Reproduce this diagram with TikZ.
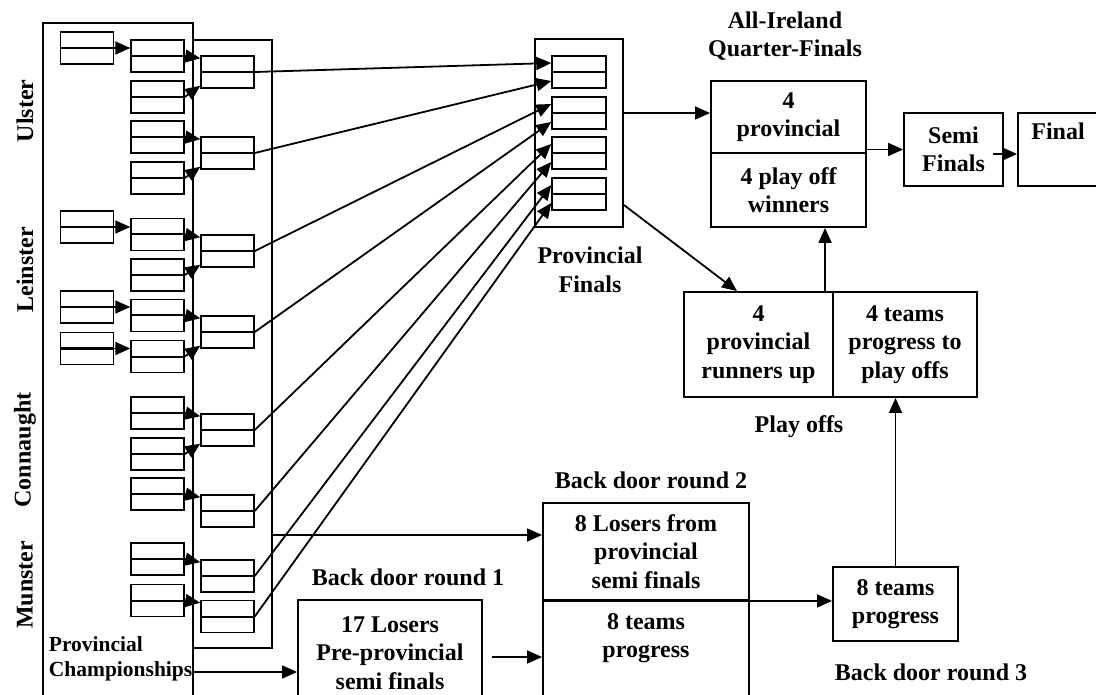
\documentclass[tikz,border=0pt]{standalone}
\usepackage{fontspec}
\setmainfont{Liberation Serif}
\usetikzlibrary{arrows.meta}

\tikzset{
  box/.style={draw, line width=1.9pt, align=center, inner sep=0pt},
  slot/.style={draw, line width=1.5pt, minimum width=53pt, minimum height=32pt, inner sep=0pt,
    path picture={\draw[line width=2pt] (path picture bounding box.west) -- (path picture bounding box.east);}},
  txt/.style={align=center, inner sep=0pt},
}

\begin{document}
\begin{tikzpicture}[x=1pt, y=-1pt, >={Triangle[length=15pt,width=13pt]}, line width=1.8pt,
    font=\bfseries\fontsize{24}{28.5}\selectfont]

        \useasboundingbox (0,0) rectangle (1096,695);
        \clip (0,0) rectangle (1096,695);

        % Provinces
        \node[rotate=90] (ulster) at (25,111) {Ulster};
        \node[rotate=90] (leinster) at (25,270) {Leinster};
        \node[rotate=90] (connaught) at (25,450) {Connaught};
        \node[rotate=90] (munster) at (25,585) {Munster};

        % Championship frames
        \draw (43,700) |- (193,23) -- (193,700);
        \node[box, minimum width=79pt, minimum height=608pt] (rounds) at (232.5,344) {};
        \node[txt, align=left, anchor=west, font=\bfseries\fontsize{21.5}{25}\selectfont] (champlabel) at (48,659) {Provincial\\Championships};

        % Early rounds
        \foreach \n/\y in {1/48,2/227,3/307,4/348.5}
            \node[slot] (a\n) at (87,\y) {};
        \foreach \n/\y in {1/56,2/97,3/137,4/178,5/234.5,6/275,7/315.5,8/356.5,9/413,10/454,11/494,12/559,13/600.5}
            \node[slot] (b\n) at (157.5,\y) {};
        \foreach \n/\y in {1/72,2/153,3/251,4/332,5/430,6/511,7/576,8/616.5}
            \node[slot] (c\n) at (227.5,\y) {};

        \foreach \i/\j in {1/1,2/5,3/7,4/8}
            \draw[->] (a\i.east) -- (a\i.east -| b\j.west);
        \foreach \i/\j in {1/1,3/2,5/3,7/4,9/5,11/6,12/7,13/8}
            \draw[->] (b\i.east) -- ([yshift=-3pt]c\j.north west);
        \foreach \i/\j in {2/1,4/2,6/3,8/4,10/5}
            \draw[->] (b\i.east) -- ([yshift=3pt]c\j.south west);

        % Provincial finals
        \node[box, minimum width=88pt, minimum height=188pt] (pfbox) at (579,133) {};
        \foreach \n/\y in {1/72,2/113,3/153,4/194}
            \node[slot, minimum width=54pt] (f\n) at (579,\y) {};
        \node[txt] (pflabel) at (590,270) {Provincial\\Finals};

        \foreach \i/\j/\s in {1/1/9,2/1/-9,3/2/9,4/2/-9,5/3/9,6/3/-9,7/4/9,8/4/-9}
            \draw[->] (c\i.east) -- ([yshift=\s pt]f\j.west);

        % All-Ireland
        \node[txt] (qflabel) at (785,36) {All-Ireland\\Quarter-Finals};
        \node[box, minimum width=155pt, minimum height=72pt] (qfa) at (788.5,117) {4\\provincial};
        \node[box, minimum width=155pt, minimum height=74pt] (qfb) at (788.5,190) {4 play off\\winners};
        \node[box, minimum width=99pt, minimum height=73pt] (semi) at (953.5,149.5) {Semi\\Finals};
        \node[box, minimum width=80pt, minimum height=73pt] (final) at (1058,149.5) {Final\\\strut};

        % Play offs
        \node[box, minimum width=149pt, minimum height=105pt] (pla) at (758.5,344.5) {4\\provincial\\runners up};
        \node[box, minimum width=144pt, minimum height=105pt] (plb) at (905,344.5) {4 teams\\progress to\\play offs};
        \node[txt] (pllabel) at (799,427) {Play offs};

        % Back door
        \node[txt] (bdtwolabel) at (651,480) {Back door round 2};
        \node[box, minimum width=206pt, minimum height=97pt] (bda) at (646,551.5) {8 Losers from\\provincial\\semi finals};
        \node[box, minimum width=206pt, minimum height=140pt, anchor=north] (bdb) at (646,600) {};
        \node[txt] (bdbtext) at (646,638) {8 teams\\progress};
        \node[txt] (bdonelabel) at (408,577) {Back door round 1};
        \node[box, minimum width=184pt, minimum height=106pt] (bdone) at (390,653) {17 Losers\\Pre-provincial\\semi finals};
        \node[box, minimum width=125pt, minimum height=74pt] (eight) at (895.5,604) {8 teams\\progress};
        \node[txt] (bdthreelabel) at (931,672) {Back door round 3};

        % Connectors
        \draw[->] (pfbox.east |- f2.east) -- (f2.east -| qfa.west);
        \coordinate (pfout) at ([yshift=-72pt]pfbox.east);
        \draw[->] (pfout) -- ([xshift=-21.5pt]pla.north);
        \coordinate (upfoot) at ([xshift=-7pt]plb.north west);
        \draw[->] (upfoot) -- (upfoot |- qfb.south);
        \draw[->] (semi.west -| qfa.east) -- (semi.west);
        \coordinate (semiout) at ([xshift=-11pt,yshift=-4.5pt]semi.east);
        \draw[->] (semiout) -- (semiout -| final.west);
        \draw[->] (eight.north) -- (eight.north |- plb.south);
        \draw[->] (bda.south east) -- (bda.south east -| eight.west);
        \coordinate (bdoneout) at ([xshift=9pt,yshift=-4pt]bdone.east);
        \draw[->] (bdoneout) -- (bdoneout -| bdb.west);
        \coordinate (losers) at (rounds.east |- 0,535);
        \draw[->] (losers) -- (losers -| bda.west);
        \coordinate (champ) at (193,672);
        \draw[->] (champ) -- (champ -| bdone.west);

\end{tikzpicture}
\end{document}
